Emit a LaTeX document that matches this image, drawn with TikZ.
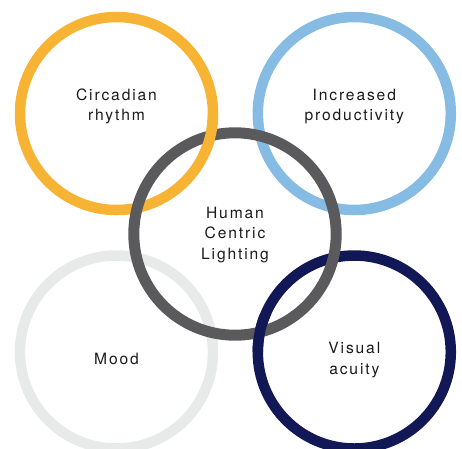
\documentclass[tikz,border=0pt]{standalone}
\usepackage{fontspec}
\newfontfamily\lblfont{TeX Gyre Heros}[LetterSpace=12]
\definecolor{orangec}{HTML}{F7B334}
\definecolor{bluec}{HTML}{86BCE3}
\definecolor{grayc}{HTML}{5A5A5C}
\definecolor{moodc}{HTML}{E8EAE9}
\definecolor{navyc}{HTML}{121856}
\definecolor{textc}{HTML}{1A1A1A}
\begin{document}
\begin{tikzpicture}[x=1pt,y=-1pt,
  ring/.style={line width=10.5pt},
  lbl/.style={font=\lblfont\fontsize{15.6}{20.3}\selectfont, text=textc, align=center, anchor=base, inner sep=0pt}]
\useasboundingbox (0,0) rectangle (462,448);
\coordinate (co) at (116.5,113.5);
\coordinate (cb) at (354.3,113.5);
\coordinate (cg) at (235,234);
\coordinate (cm) at (116.5,352);
\coordinate (cn) at (354.3,352);
\draw[ring, moodc] (cm) circle[radius=96.5pt];
\draw[ring, orangec] (co) circle[radius=96.5pt];
\draw[ring, bluec] (cb) circle[radius=96.5pt];
\draw[ring, navyc] (cn) circle[radius=96.5pt];
\draw[line width=11pt, grayc] (cg) circle[radius=101.2pt];
\begin{scope}
  \clip (194,116) rectangle (228,154);
  \draw[ring, orangec] (co) circle[radius=96.5pt];
\end{scope}
\begin{scope}
  \clip (242,314) rectangle (277,351);
  \draw[ring, navyc] (cn) circle[radius=96.5pt];
\end{scope}
\node[lbl] (t1) at (116.5,120.7) {Circadian\\rhythm};
\node[lbl] (t2) at (354.3,120.7) {Increased\\productivity};
\node[lbl] (t3) at (235,259) {Human\\Centric\\Lighting};
\node[lbl] (t4) at (116.5,364) {Mood};
\node[lbl] (t5) at (354.3,374) {Visual\\acuity};
\end{tikzpicture}
\end{document}
